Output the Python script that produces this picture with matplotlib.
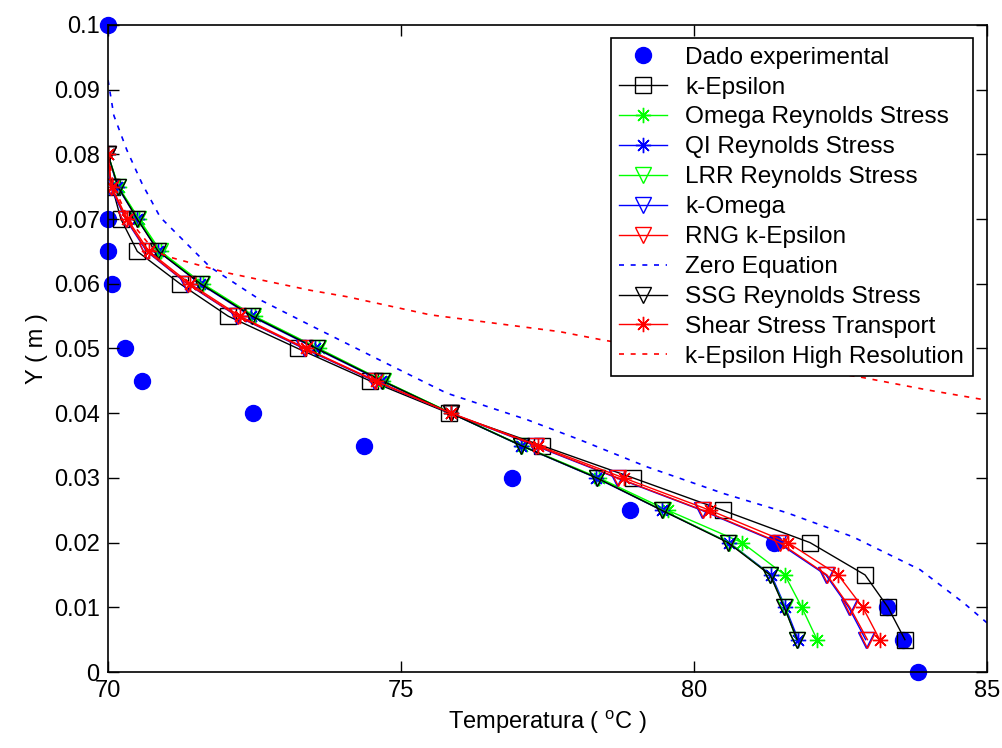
import numpy as np
import matplotlib.pyplot as plt

plt.rcParams['font.family'] = ['Liberation Sans', 'DejaVu Sans']
plt.rcParams['mathtext.fontset'] = 'custom'
plt.rcParams['mathtext.rm'] = 'Liberation Sans'

# Dados experimentais
y_exp = [0.1, 0.07, 0.065, 0.06, 0.05, 0.045, 0.04, 0.035, 0.03, 0.025, 0.02, 0.01, 0.005, 0.0]
t_exp = [70.0, 70.0, 70.0, 70.06, 70.29, 70.58, 72.47, 74.37, 76.9, 78.91, 81.37, 83.3, 83.57, 83.82]

# Alturas das simulacoes
y_sim = [0.08, 0.075, 0.07, 0.065, 0.06, 0.055, 0.05, 0.045, 0.04, 0.035, 0.03, 0.025, 0.02, 0.015, 0.01, 0.005]
y_ke = y_sim[1:]

t_kepsilon = [70.07, 70.22, 70.5, 71.23, 72.05, 73.24, 74.47, 75.82, 77.4, 78.96, 80.49, 81.98, 82.92, 83.31, 83.6]
t_omega_rs = [70.0, 70.18, 70.53, 70.9, 71.62, 72.5, 73.6, 74.7, 75.86, 77.06, 78.38, 79.55, 80.82, 81.55, 81.84, 82.1]
t_qi_rs = [70.0, 70.16, 70.5, 70.86, 71.57, 72.44, 73.54, 74.66, 75.85, 77.04, 78.33, 79.45, 80.6, 81.32, 81.56, 81.78]
t_lrr_rs = [70.0, 70.17, 70.52, 70.88, 71.6, 72.48, 73.58, 74.69, 75.86, 77.05, 78.35, 79.47, 80.6, 81.3, 81.55, 81.75]
t_komega = [70.0, 70.04, 70.3, 70.66, 71.35, 72.2, 73.34, 74.54, 75.85, 77.28, 78.68, 80.13, 81.43, 82.25, 82.64, 82.93]
t_rng = [70.0, 70.05, 70.31, 70.67, 71.36, 72.21, 73.36, 74.55, 75.85, 77.3, 78.7, 80.15, 81.46, 82.27, 82.66, 82.96]
t_ssg_rs = [70.0, 70.17, 70.5, 70.86, 71.58, 72.46, 73.56, 74.68, 75.85, 77.05, 78.34, 79.45, 80.58, 81.3, 81.54, 81.76]
t_sst = [70.0, 70.06, 70.33, 70.7, 71.4, 72.25, 73.38, 74.57, 75.86, 77.34, 78.8, 80.27, 81.6, 82.46, 82.88, 83.17]

# Zero Equation
y_zero = [0.0915, 0.086, 0.0807, 0.0755, 0.0703, 0.0626, 0.0575, 0.0536, 0.0482, 0.0431, 0.039, 0.0359, 0.0317,
          0.0276, 0.0246, 0.0209, 0.0158, 0.0107, 0.0076]
t_zero = [70.0, 70.1, 70.32, 70.58, 70.89, 71.74, 72.6, 73.45, 74.64, 75.78, 77.15, 78.05, 79.2,
          80.5, 81.59, 82.71, 83.86, 84.6, 85.0]

# k-Epsilon High Resolution
y_kehr = [0.08, 0.075, 0.07, 0.065, 0.0641, 0.0617, 0.059, 0.058, 0.0552, 0.0532, 0.0526, 0.0513, 0.049,
          0.0478, 0.0466, 0.0456, 0.0436, 0.042]
t_kehr = [70.0, 70.1, 70.35, 70.8, 71.06, 72.03, 73.45, 74.08, 75.5, 77.2, 77.71, 78.45, 80.0,
          81.0, 82.0, 82.83, 83.98, 85.0]

star = (8, 2, 0)
ms = 11

fig = plt.figure(figsize=(10.02, 7.48), dpi=100)
ax = fig.add_axes([0.1078, 0.1016, 0.8772, 0.8650])

ax.plot(t_exp, y_exp, 'o', color='blue', markersize=11.5, label='Dado experimental', clip_on=False, zorder=1)
ax.plot(t_kepsilon, y_ke, '-s', color='black', mfc='none', markersize=ms, lw=1, label='k-Epsilon')
ax.plot(t_omega_rs, y_sim, '-', marker=star, color='#00ff00', markersize=ms, lw=1, label='Omega Reynolds Stress')
ax.plot(t_qi_rs, y_sim, '-', marker=star, color='blue', markersize=ms, lw=1, label='QI Reynolds Stress')
ax.plot(t_lrr_rs, y_sim, '-v', color='#00ff00', mfc='none', markersize=ms, lw=1, label='LRR Reynolds Stress')
ax.plot(t_komega, y_sim, '-v', color='blue', mfc='none', markersize=ms, lw=1, label='k-Omega')
ax.plot(t_rng, y_sim, '-v', color='red', mfc='none', markersize=ms, lw=1, label='RNG k-Epsilon')
ax.plot(t_zero, y_zero, '--', color='blue', lw=1.2, dashes=(3, 4), label='Zero Equation')
ax.plot(t_ssg_rs, y_sim, '-v', color='black', mfc='none', markersize=ms, lw=1, label='SSG Reynolds Stress')
ax.plot(t_sst, y_sim, '-', marker=star, color='red', markersize=ms, lw=1, label='Shear Stress Transport')
ax.plot(t_kehr, y_kehr, '--', color='red', lw=1.2, dashes=(3, 4), label='k-Epsilon High Resolution')

ax.set_xlim(70, 85)
ax.set_ylim(0, 0.1)
ax.set_xticks([70, 75, 80, 85])
ax.set_yticks(np.arange(0, 0.101, 0.01))
ax.set_yticklabels(['0', '0.01', '0.02', '0.03', '0.04', '0.05', '0.06', '0.07', '0.08', '0.09', '0.1'])
ax.tick_params(direction='in', length=8, width=1, top=True, right=True, labelsize=17, pad=6)
for s in ax.spines.values():
    s.set_linewidth(1.2)

ax.set_xlabel('Temperatura ( $^{\\mathrm{o}}$C )', fontsize=17)
ax.set_ylabel('Y ( m )', fontsize=17)

leg = ax.legend(loc='upper right', bbox_to_anchor=(0.984, 0.980), borderaxespad=0, fontsize=17.6,
                fancybox=False, edgecolor='black', framealpha=1, handlelength=1.95,
                handletextpad=0.75, labelspacing=0.32, borderpad=0.35)
leg.get_frame().set_linewidth(1.2)

plt.savefig('out.png', dpi=100)
